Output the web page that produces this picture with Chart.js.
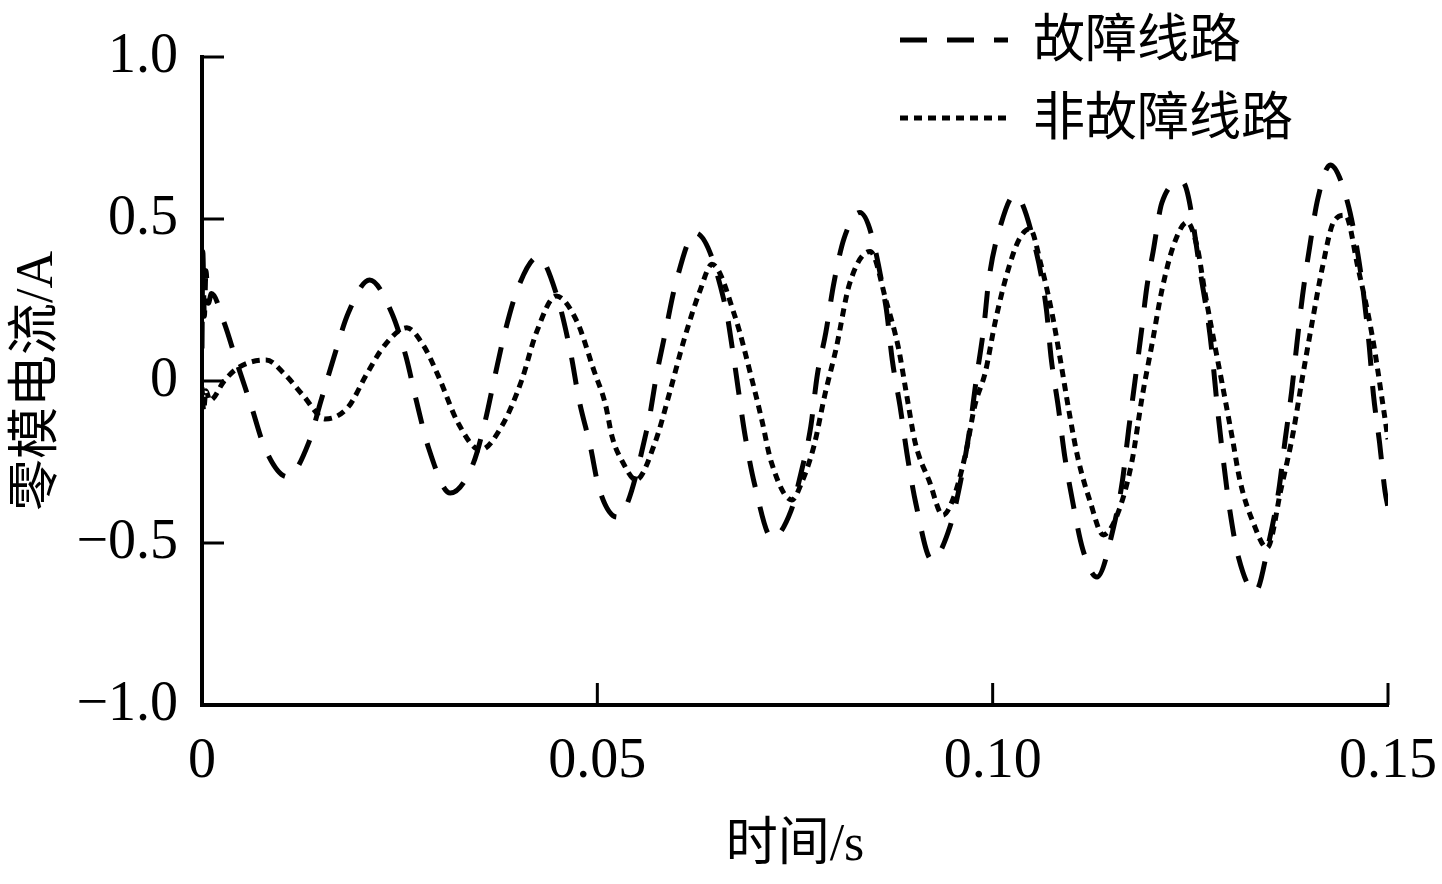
<!DOCTYPE html>
<html lang="zh">
<head>
<meta charset="UTF-8">
<title>零模电流</title>
<script src="https://cdn.jsdelivr.net/npm/chart.js"></script>
<style>
    html, body { margin: 0; padding: 0; background: #fff; }
    #wrap { width: 1442px; height: 884px; }
</style>
</head>
<body>
<div id="wrap"><canvas id="currentChart" width="1442" height="884"></canvas></div>
<script>
// series names (legend)
const seriesNames = ['故障线路', '非故障线路'];

// fault line: time (s) and zero-mode current (A)
const faultTime = [0, 0.0001, 0.0003, 0.0005, 0.0008, 0.0012, 0.0028, 0.0045, 0.0062, 0.0080,
    0.0108, 0.0135, 0.0150, 0.0167, 0.0185, 0.0212, 0.0240, 0.0258, 0.0271, 0.0287,
    0.0314, 0.0343, 0.0358, 0.0370, 0.0383, 0.0400, 0.0425, 0.0448, 0.0466, 0.0477,
    0.0491, 0.0502, 0.0525, 0.0564, 0.0575, 0.0586, 0.0599, 0.0624, 0.0662, 0.0672,
    0.0687, 0.0699, 0.0721, 0.0745, 0.0757, 0.0770, 0.0778, 0.0789, 0.0799, 0.0812,
    0.0832, 0.0865, 0.0873, 0.0883, 0.0892, 0.0903, 0.0923, 0.0946, 0.0959, 0.0970,
    0.0979, 0.0989, 0.0995, 0.1010, 0.1028, 0.1055, 0.1068, 0.1074, 0.1083, 0.1091,
    0.1101, 0.1114, 0.1132, 0.1153, 0.1164, 0.1172, 0.1180, 0.1188, 0.1195, 0.1203,
    0.1214, 0.1240, 0.1265, 0.1275, 0.1285, 0.1292, 0.1300, 0.1311, 0.1332,
    0.1350, 0.1362, 0.1370, 0.1378, 0.1385, 0.1392, 0.1401, 0.1411, 0.1427, 0.1449,
    0.1462, 0.1470, 0.14764, 0.14815, 0.14893, 0.14962, 0.1500];
const faultCurrent = [0.10, 0.40, 0.20, 0.34, 0.24, 0.27, 0.18, 0.05, -0.075, -0.21,
    -0.296, -0.19, -0.065, 0.075, 0.21, 0.312, 0.21, 0.075, -0.06, -0.21,
    -0.346, -0.255, -0.125, 0.01, 0.15, 0.29, 0.383, 0.27, 0.09, -0.06,
    -0.20, -0.33, -0.42, -0.135, 0.02, 0.15, 0.30, 0.457, 0.23, 0.08,
    -0.17, -0.32, -0.485, -0.40, -0.29, -0.14, 0.015, 0.15, 0.30, 0.44,
    0.52, 0.23, 0.065, -0.08, -0.23, -0.38, -0.552, -0.45, -0.315, -0.165,
    0.0, 0.17, 0.31, 0.48, 0.574, 0.40, 0.22, 0.07, -0.08, -0.23,
    -0.37, -0.52, -0.605, -0.45, -0.31, -0.15, 0.0, 0.15, 0.29, 0.40,
    0.55, 0.614, 0.30, 0.14, -0.10, -0.25, -0.40, -0.545, -0.651,
    -0.49, -0.335, -0.18, -0.035, 0.12, 0.265, 0.415, 0.56, 0.667, 0.55,
    0.39, 0.25, 0.105, -0.04, -0.19, -0.34, -0.39];

// healthy (non-fault) line
const healthyTime = [0, 0.0002, 0.0005, 0.0010, 0.0028, 0.0045, 0.0081, 0.0105, 0.0128, 0.0156,
    0.0185, 0.0208, 0.0231, 0.0259, 0.0280, 0.0299, 0.0324, 0.0352, 0.0379, 0.0404,
    0.0423, 0.0448, 0.0474, 0.0496, 0.0510, 0.0519, 0.0532, 0.0549, 0.0573, 0.0591,
    0.0610, 0.0630, 0.0645, 0.0674, 0.0696, 0.0708, 0.0720, 0.0746, 0.0759, 0.0774,
    0.0788, 0.0802, 0.0819, 0.0845, 0.0866, 0.0881, 0.0891, 0.0902, 0.0920, 0.0937,
    0.0952, 0.0967, 0.0977, 0.0991, 0.1003, 0.1018, 0.1033, 0.1047, 0.1061, 0.1075,
    0.1086, 0.1097, 0.1108, 0.1123, 0.1140, 0.1158, 0.1176, 0.1189, 0.1202, 0.1214,
    0.1229, 0.1246, 0.1259, 0.1268, 0.1279, 0.1290, 0.1303, 0.1313, 0.1330, 0.1347,
    0.1365, 0.1380, 0.1391, 0.1404, 0.1417, 0.1431, 0.1446, 0.1462, 0.1480, 0.1494,
    0.1500];
const healthyCurrent = [-0.02, -0.09, -0.03, -0.06, 0.0, 0.04, 0.065, 0.02, -0.045, -0.117,
    -0.08, 0.02, 0.11, 0.164, 0.11, 0.015, -0.13, -0.213, -0.14, 0.0,
    0.15, 0.262, 0.185, 0.03, -0.07, -0.175, -0.25, -0.305, -0.19, -0.04,
    0.13, 0.28, 0.36, 0.20, 0.0, -0.12, -0.25, -0.367, -0.31, -0.20,
    -0.04, 0.10, 0.30, 0.40, 0.24, 0.10, -0.04, -0.19, -0.31, -0.414,
    -0.35, -0.21, -0.08, 0.03, 0.18, 0.33, 0.435, 0.47, 0.36, 0.21,
    0.06, -0.10, -0.24, -0.37, -0.475, -0.41, -0.25, -0.05, 0.12, 0.28,
    0.42, 0.49, 0.41, 0.28, 0.135, -0.005, -0.175, -0.31, -0.44, -0.515,
    -0.33, -0.16, 0.0, 0.18, 0.35, 0.49, 0.512, 0.35, 0.14, -0.08,
    -0.18];

// axis ticks
const xTicks = [0, 0.05, 0.10, 0.15];
const yTicks = [-1.0, -0.5, 0, 0.5, 1.0];

const serif = '"Liberation Serif", "Times New Roman", "Noto Sans CJK SC", serif';

function toPoints(ts, vs) {
    return ts.map((t, i) => ({ x: t, y: vs[i] }));
}

// ticks drawn inward, like the original figure
const inwardTicks = {
    id: 'inwardTicks',
    afterDatasetsDraw(chart) {
        const { ctx, chartArea, scales } = chart;
        ctx.save();
        ctx.strokeStyle = '#000';
        ctx.lineWidth = 3;
        xTicks.forEach(v => {
            const px = scales.x.getPixelForValue(v);
            ctx.beginPath();
            ctx.moveTo(px, chartArea.bottom);
            ctx.lineTo(px, chartArea.bottom - 22);
            ctx.stroke();
        });
        yTicks.forEach(v => {
            const py = scales.y.getPixelForValue(v);
            ctx.beginPath();
            ctx.moveTo(chartArea.left, py);
            ctx.lineTo(chartArea.left + 22, py);
            ctx.stroke();
        });
        ctx.restore();
    }
};

// legend with line samples at top right
const lineLegend = {
    id: 'lineLegend',
    afterDraw(chart) {
        const ctx = chart.ctx;
        chart.data.datasets.forEach((ds, i) => {
            const y = 40 + i * 78;
            ctx.save();
            ctx.strokeStyle = '#000';
            ctx.lineWidth = 5;
            ctx.setLineDash(ds.borderDash);
            ctx.beginPath();
            ctx.moveTo(900, y);
            ctx.lineTo(1008, y);
            ctx.stroke();
            ctx.setLineDash([]);
            ctx.fillStyle = '#000';
            ctx.font = '52px ' + serif;
            ctx.textBaseline = 'middle';
            ctx.fillText(ds.label, 1033, y + 3);
            ctx.restore();
        });
    }
};

new Chart(document.getElementById('currentChart'), {
    type: 'line',
    data: {
        datasets: [{
            label: seriesNames[0],
            data: toPoints(faultTime, faultCurrent),
            borderColor: '#000',
            borderWidth: 5,
            borderDash: [27, 20],
            pointRadius: 0,
            fill: false,
            cubicInterpolationMode: 'monotone'
        }, {
            label: seriesNames[1],
            data: toPoints(healthyTime, healthyCurrent),
            borderColor: '#000',
            borderWidth: 5,
            borderDash: [8, 6],
            pointRadius: 0,
            fill: false,
            cubicInterpolationMode: 'monotone'
        }]
    },
    options: {
        responsive: false,
        animation: false,
        devicePixelRatio: 1,
        layout: { padding: { top: 57, right: 54, left: 0, bottom: 0 } },
        plugins: {
            legend: { display: false },
            tooltip: { enabled: false }
        },
        scales: {
            x: {
                type: 'linear',
                min: 0,
                max: 0.15,
                afterBuildTicks: s => { s.ticks = xTicks.map(v => ({ value: v })); },
                afterFit: s => {
                    s.height = 179;
                    s.paddingLeft = 0;
                    s.paddingRight = 0;
                },
                grid: { display: true, drawOnChartArea: false, drawTicks: false },
                border: { display: true, color: '#000', width: 4 },
                ticks: {
                    color: '#000',
                    padding: 24,
                    maxRotation: 0,
                    font: { family: serif, size: 56 },
                    callback: v => v === 0 ? '0' : v.toFixed(2)
                },
                title: {
                    display: true,
                    text: '时间/s',
                    color: '#000',
                    font: { family: serif, size: 52 },
                    padding: { top: 0, bottom: 6 }
                }
            },
            y: {
                min: -1,
                max: 1,
                afterBuildTicks: s => { s.ticks = yTicks.map(v => ({ value: v })); },
                afterFit: s => {
                    s.width = 202;
                    s.paddingTop = 0;
                    s.paddingBottom = 0;
                },
                grid: { display: true, drawOnChartArea: false, drawTicks: false },
                border: { display: true, color: '#000', width: 4 },
                ticks: {
                    color: '#000',
                    padding: 24,
                    font: { family: serif, size: 56 },
                    callback: v => v === 0 ? '0' : v.toFixed(1).replace('-', '\u2212')
                },
                title: {
                    display: true,
                    text: '零模电流/A',
                    color: '#000',
                    font: { family: serif, size: 52 },
                    padding: { top: 7, bottom: 0 }
                }
            }
        }
    },
    plugins: [inwardTicks, lineLegend]
});
</script>
</body>
</html>
